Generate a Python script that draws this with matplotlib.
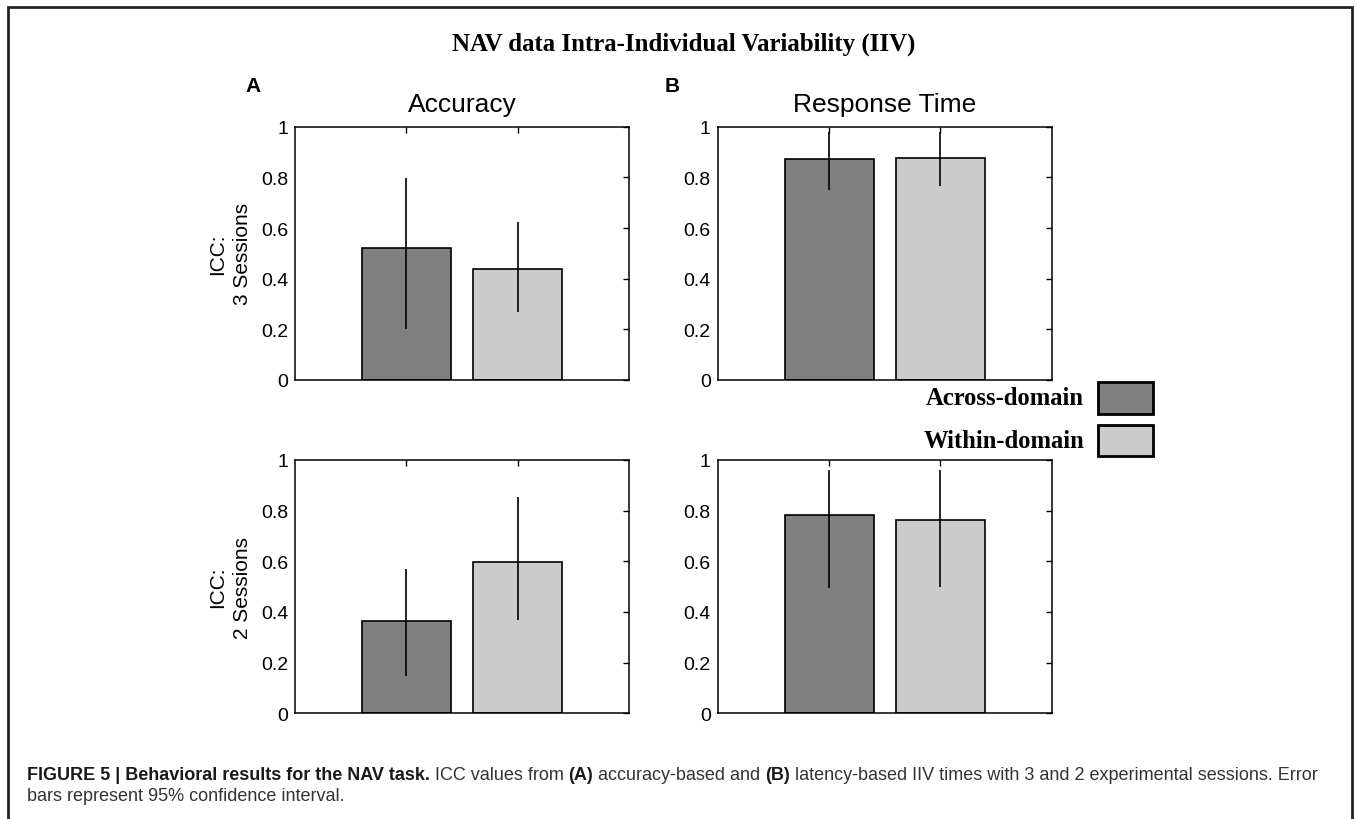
import matplotlib
matplotlib.use("Agg")
import matplotlib.pyplot as plt
from matplotlib.patches import Rectangle
from matplotlib.text import Annotation

# ---- data ----
Conditions = ["Across-domain", "Within-domain"]
BarColors = ["#808080", "#cccccc"]
Positions = [1, 2]

Acc3 = [0.522, 0.440]
Acc3Lo = [0.201, 0.267]
Acc3Hi = [0.799, 0.625]

RT3 = [0.871, 0.876]
RT3Lo = [0.751, 0.767]
RT3Hi = [0.980, 0.980]

Acc2 = [0.365, 0.596]
Acc2Lo = [0.147, 0.369]
Acc2Hi = [0.569, 0.855]

RT2 = [0.781, 0.765]
RT2Lo = [0.493, 0.499]
RT2Hi = [0.962, 0.960]

YTicks = [0, 0.2, 0.4, 0.6, 0.8, 1]
YTickLabels = ["0", "0.2", "0.4", "0.6", "0.8", "1"]

ColTitles = ["Accuracy", "Response Time"]
RowLabels = ["ICC:\n3 Sessions", "ICC:\n2 Sessions"]
PanelLetters = ["A", "B"]

SANS = "Liberation Sans"
SERIF = "Liberation Serif"

W, H = 1358, 820
fig = plt.figure(figsize=(W / 100, H / 100), dpi=100)


def px(x, y):
    # pixel position (from top-left) -> figure fraction
    return x / W, 1 - y / H


def DrawPanel(ax, Vals, Lo, Hi):
    Err = [[v - l for v, l in zip(Vals, Lo)], [h - v for v, h in zip(Vals, Hi)]]
    ax.bar(Positions, Vals, width=0.8, color=BarColors, edgecolor="black",
           linewidth=1.2, zorder=2)
    ax.errorbar(Positions, Vals, yerr=Err, fmt="none", ecolor="black",
                elinewidth=1.2, capsize=0, zorder=3)
    ax.set_xlim(0, 3)
    ax.set_ylim(0, 1)
    ax.set_xticks(Positions)
    ax.set_yticks(YTicks)
    ax.set_yticklabels(YTickLabels, fontfamily=SANS, fontsize=14)
    ax.tick_params(direction="in", length=4, width=1, left=False, bottom=False,
                   right=True, top=True, labelbottom=False, pad=5)
    for s in ax.spines.values():
        s.set_linewidth(1.1)


AxLeft = [295, 717.7]
AxTop = [127.7, 461]
AxW, AxH = 334, 253.3

Data = [[(Acc3, Acc3Lo, Acc3Hi), (RT3, RT3Lo, RT3Hi)],
        [(Acc2, Acc2Lo, Acc2Hi), (RT2, RT2Lo, RT2Hi)]]

for r in range(2):
    for c in range(2):
        x0, y1 = px(AxLeft[c], AxTop[r] + AxH)
        ax = fig.add_axes([x0, y1, AxW / W, AxH / H])
        DrawPanel(ax, *Data[r][c])
        if r == 0:
            ax.set_title(ColTitles[c], fontfamily=SANS, fontsize=19, pad=11.5)
        if c == 0:
            ax.set_ylabel(RowLabels[r], fontfamily=SANS, fontsize=15,
                          labelpad=6, linespacing=1.45)

# panel letters
fig.text(*px(245, 92), PanelLetters[0], fontfamily=SANS, fontweight="bold",
         fontsize=15, va="baseline", ha="left")
fig.text(*px(665, 92), PanelLetters[1], fontfamily=SANS, fontweight="bold",
         fontsize=15, va="baseline", ha="left")

# main title
fig.text(*px(684, 51), "NAV data Intra-Individual Variability (IIV)",
         fontfamily=SERIF, fontweight="bold", fontsize=17.9, ha="center",
         va="baseline")

# legend boxes, text on the left of each swatch
for i, (Name, Col) in enumerate(zip(Conditions, BarColors)):
    top = 383 + i * 42.5
    bx, by = px(1098, top + 31.5)
    fig.add_artist(Rectangle((bx, by), 55 / W, 31.5 / H, transform=fig.transFigure,
                             facecolor=Col, edgecolor="black", linewidth=2))
    fig.text(*px(1084, top + 16), Name, fontfamily=SERIF, fontweight="bold",
             fontsize=17.7, ha="right", va="center")

# outer frame
fx, fy = px(8, 822)
fig.add_artist(Rectangle((fx, fy), (1352 - 8) / W, (822 - 8) / H,
                         transform=fig.transFigure, fill=False,
                         edgecolor="#222222", linewidth=2))

# caption, pieces chained left to right
CapSize = 13.0
SpacePts = 3.6
Line1 = [("FIGURE 5 | Behavioral results for the NAV task.", "bold"),
         ("ICC values from", "normal"),
         ("(A)", "bold"),
         ("accuracy-based and", "normal"),
         ("(B)", "bold"),
         ("latency-based IIV times with 3 and 2 experimental sessions. Error", "normal")]
Line2 = "bars represent 95% confidence interval."

Prev = fig.text(*px(26.7, 780), Line1[0][0], fontfamily=SANS,
                fontweight=Line1[0][1], fontsize=CapSize, color="#1a1a1a",
                va="baseline", ha="left")
for Txt, Wt in Line1[1:]:
    Prev = fig.add_artist(Annotation(
        Txt, xy=(1, 0), xycoords=Prev, xytext=(SpacePts, 0),
        textcoords="offset points", ha="left", va="bottom",
        fontfamily=SANS, fontweight=Wt, fontsize=CapSize,
        color="#1a1a1a" if Wt == "bold" else "#333333"))
fig.text(*px(26.7, 801), Line2, fontfamily=SANS, fontsize=CapSize,
         color="#333333", va="baseline", ha="left")

fig.savefig("out.png", dpi=100)
